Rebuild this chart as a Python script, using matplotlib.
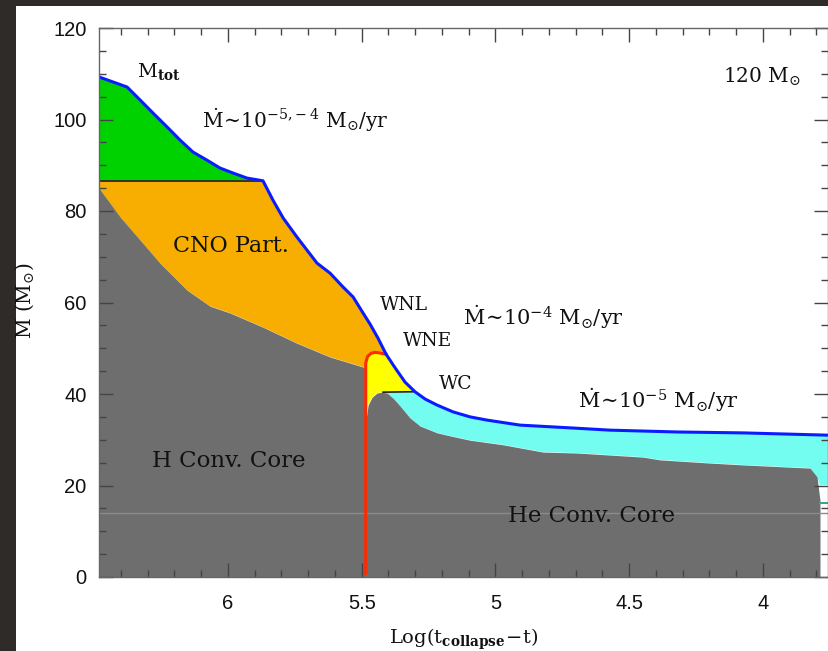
import matplotlib

matplotlib.use("Agg")
import matplotlib.pyplot as plt
import numpy as np

from matplotlib.figure import Figure
from matplotlib.axes import Axes
from matplotlib.patches import Rectangle
from matplotlib.ticker import MultipleLocator

# ------------------------------
# Data
# ------------------------------
# total mass M_tot (blue line)
mtot_x = np.array([6.482, 6.377, 6.329, 6.28, 6.228, 6.179, 6.131, 6.078, 6.03, 5.981,
                   5.929, 5.869, 5.832, 5.794, 5.742, 5.667, 5.618, 5.57, 5.532, 5.495,
                   5.469, 5.439, 5.409, 5.375, 5.338, 5.301, 5.263, 5.219, 5.159, 5.095,
                   5.032, 4.908, 4.721, 4.572, 4.321, 4.075, 3.757])
mtot_y = np.array([109.3, 107.1, 104.3, 101.4, 98.4, 95.5, 92.9, 91.1, 89.4, 88.3,
                   87.2, 86.6, 82.4, 78.5, 74.3, 68.6, 66.4, 63.4, 61.2, 57.7,
                   55.3, 52.2, 48.7, 45.7, 42.6, 40.5, 38.9, 37.6, 36.1, 35.0,
                   34.3, 33.2, 32.6, 32.1, 31.7, 31.5, 31.0])

# H convective core boundary
hcore_x = np.array([6.482, 6.403, 6.329, 6.254, 6.153, 6.067, 5.992, 5.869, 5.742,
                    5.619, 5.495, 5.485])
hcore_y = np.array([85.0, 78.7, 73.7, 68.6, 62.7, 59.2, 57.7, 54.6, 51.1,
                    48.1, 45.9, 45.7])

# He convective core boundary
hecore_x = np.array([5.484, 5.476, 5.461, 5.443, 5.424, 5.405, 5.383, 5.357, 5.32, 5.282,
                     5.218, 5.151, 5.095, 4.972, 4.822, 4.695, 4.448, 4.385, 4.198, 4.075,
                     3.824, 3.798, 3.787])
hecore_y = np.array([34.3, 37.6, 39.3, 40.2, 40.4, 40.2, 39.1, 37.4, 34.8, 33.0,
                     31.5, 30.6, 29.9, 28.9, 27.3, 27.1, 26.2, 25.6, 24.9, 24.5,
                     23.8, 21.9, 16.8])

# red boundary (end of core H burning)
red_x = np.array([5.485, 5.485, 5.478, 5.465, 5.45, 5.435, 5.42, 5.409])
red_y = np.array([0.8, 46.8, 48.2, 48.9, 49.1, 49.0, 48.8, 48.7])

cno_top: float = 86.6          # green / orange separation
kink_x: float = 5.869          # where M_tot meets cno_top
wc_x = np.array([5.42, 5.301])
wc_y = np.array([40.4, 40.5])
cyan_floor: float = 20.1       # cyan bottom at the right edge
grid_y: float = 14.0
teal_x = np.array([3.787, 3.757])
teal_y = np.array([16.2, 16.2])

x_lim = (6.482, 3.757)
y_lim = (0.0, 120.0)

mdot = r"$\dot{\mathrm{M}}\!\sim\!10^{%s}\ \mathrm{M}_{\odot}/\mathrm{yr}$"

# ------------------------------
# Define Figure & Axes
# ------------------------------
plt.rcParams["mathtext.fontset"] = "dejavuserif"
fig: Figure = plt.figure(figsize=(8.29, 6.51), dpi=100, facecolor="#2e2b29")
fig.patches.append(Rectangle((16 / 829, 0), 1, 1 - 6 / 651, transform=fig.transFigure,
                             facecolor="white", edgecolor="none", zorder=-5))
ax: Axes = fig.add_axes([99 / 829, 74 / 651, 729 / 829, 549 / 651])
ax.set_zorder(2)

# ------------------------------
# Regions
# ------------------------------
# orange: CNO partial region
m = (mtot_x > red_x[-1]) & (mtot_x <= kink_x)
ox = np.concatenate([hcore_x, red_x[1:], mtot_x[m][::-1], [kink_x, x_lim[0]]])
oy = np.concatenate([hcore_y, red_y[1:], mtot_y[m][::-1], [cno_top, cno_top]])
ax.fill(ox, oy, color="#f7ae00", lw=0)

# green: upper envelope
m = mtot_x >= kink_x
ax.fill(np.concatenate([mtot_x[m], [x_lim[0]]]), np.concatenate([mtot_y[m], [cno_top]]),
        color="#00d200", lw=0)

# yellow: WNL/WNE phase
m = (mtot_x < red_x[-1]) & (mtot_x >= wc_x[1])
mh = hecore_x >= wc_x[0]
yx = np.concatenate([[hecore_x[0]], red_x[1:], mtot_x[m], wc_x[::-1], hecore_x[mh][::-1]])
yy = np.concatenate([[hecore_y[0]], red_y[1:], mtot_y[m], wc_y[::-1], hecore_y[mh][::-1]])
ax.fill(yx, yy, color="#ffff00", lw=0)

# cyan: WC phase
m = mtot_x < wc_x[1]
mh = (hecore_x < wc_x[0]) & (hecore_x > 3.79)
cx = np.concatenate([wc_x, mtot_x[m], [x_lim[1], hecore_x[-1]], hecore_x[mh][::-1]])
cy = np.concatenate([wc_y, mtot_y[m], [cyan_floor, cyan_floor], hecore_y[mh][::-1]])
ax.fill(cx, cy, color="#72fdf0", lw=0)

# gray: convective cores
core_x = np.concatenate([hcore_x, hecore_x])
core_y = np.concatenate([hcore_y, hecore_y])
ax.fill_between(core_x, 0, core_y, color="#6e6e6e", lw=0)

# ------------------------------
# Lines
# ------------------------------
ax.axhline(grid_y, color="#8c8c8c", lw=1)
ax.plot(teal_x, teal_y, color="#3aa58f", lw=1.5)
ax.plot([x_lim[0], kink_x], [cno_top, cno_top], color="#333333", lw=1.4)
ax.plot(wc_x, wc_y, color="#222222", lw=1.2)
ax.plot(red_x, red_y, color="#ff2a00", lw=2.2, solid_joinstyle="round")
ax.plot(mtot_x, mtot_y, color="#0a1cff", lw=2.2, solid_joinstyle="round")

# ------------------------------
# Labels
# ------------------------------
serif = dict(family="DejaVu Serif", color="#111111")
ax.text(6.34, 109.3, r"$\mathrm{M_{\mathbf{tot}}}$", fontsize=14, **serif)
ax.text(6.097, 98.1, mdot % r"-5,\!-4", fontsize=14.5, **serif)
ax.text(6.205, 71.0, "CNO Part.", fontsize=16, **serif)
ax.text(5.432, 58.4, "WNL", fontsize=13.5, **serif)
ax.text(5.346, 50.5, "WNE", fontsize=13.5, **serif)
ax.text(5.212, 41.0, "WC", fontsize=13.5, **serif)
ax.text(5.121, 55.1, mdot % "-4", fontsize=15, **serif)
ax.text(4.691, 36.9, mdot % "-5", fontsize=15, **serif)
ax.text(6.284, 24.0, "H Conv. Core", fontsize=16.5, **serif)
ax.text(4.953, 12.0, "He Conv. Core", fontsize=16.5, **serif)
ax.text(4.149, 108.0, r"120 $\mathrm{M}_{\odot}$", fontsize=14.5, **serif)

fig.text(464 / 829, 1 - 644 / 651, r"$\mathrm{Log(t_{\mathbf{collapse}}\!-\!t)}$",
         ha="center", va="baseline", fontsize=14, **serif)
fig.text(25 / 829, 1 - 301 / 651, r"M (M$_{\odot}$)", rotation=90, ha="center",
         va="center", fontsize=14.5, **serif)

# ------------------------------
# Axes config
# ------------------------------
ax.set_xlim(*x_lim)
ax.set_ylim(*y_lim)
ax.xaxis.set_major_locator(MultipleLocator(0.5))
ax.xaxis.set_minor_locator(MultipleLocator(0.1))
ax.yaxis.set_major_locator(MultipleLocator(20))
ax.yaxis.set_minor_locator(MultipleLocator(5))
ax.set_xticks([6, 5.5, 5, 4.5, 4])
ax.set_xticklabels(["6", "5.5", "5", "4.5", "4"])
ax.tick_params(which="both", direction="in", top=True, right=True, color="#444444",
               width=1.0, labelsize=14.5, labelcolor="#111111")
ax.tick_params(which="major", length=10)
ax.tick_params(which="minor", length=5)
ax.tick_params(axis="x", pad=12)
ax.tick_params(axis="y", pad=9)
for lab in ax.get_xticklabels() + ax.get_yticklabels():
    lab.set_family("Liberation Sans")
for sp in ax.spines.values():
    sp.set_color("#666666")
    sp.set_linewidth(1.0)

# ------------------------------
# Save figure
# ------------------------------
fig.savefig("out.png", dpi=100, facecolor=fig.get_facecolor())
